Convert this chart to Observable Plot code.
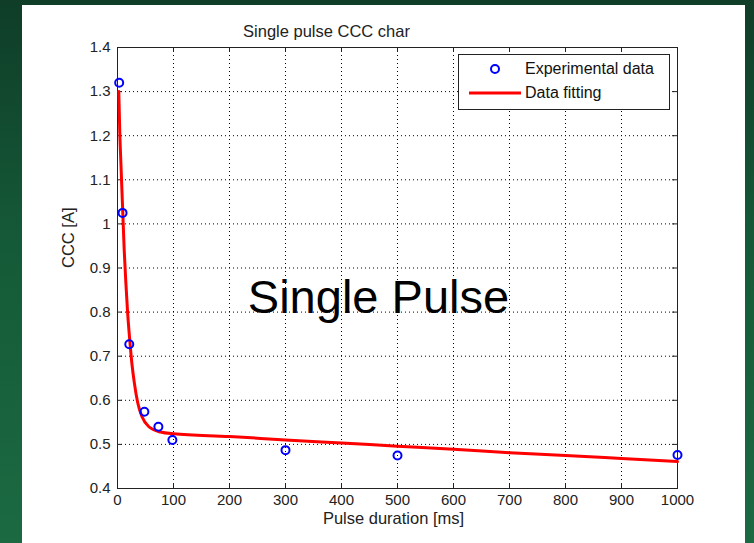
<!DOCTYPE html>
<html><head><meta charset="utf-8">
<script src="https://cdn.jsdelivr.net/npm/d3@7"></script>
<script src="https://cdn.jsdelivr.net/npm/@observablehq/plot@0.6"></script>
<style>
html,body{margin:0;padding:0;}
body{width:754px;height:543px;overflow:hidden;font-family:"Liberation Sans",Arial,sans-serif;}
#stage{position:relative;width:754px;height:543px;overflow:hidden;
 background:linear-gradient(180deg,#0f3d28 0%,#155a38 45%,#1b6a42 100%);}
#panel{position:absolute;left:22px;top:5px;width:723px;height:538px;background:#fff;}
#chart{position:absolute;left:22px;top:5px;}
#legend{position:absolute;left:458px;top:54px;width:210px;height:54px;border:1px solid #222;background:#fff;font-size:16px;color:#111;}
#legend .row{position:absolute;left:0;height:18px;width:210px;}
#legend .lbl{position:absolute;left:66px;top:0;line-height:18px;white-space:nowrap;}
</style></head>
<body>
<div id="stage"><div id="panel"></div><div id="chart"></div>
<div id="legend">
 <div class="row" style="top:5px"><svg width="60" height="18" style="position:absolute;left:0;top:0"><circle cx="36" cy="9" r="4" fill="none" stroke="#0000ff" stroke-width="2"/></svg><span class="lbl">Experimental data</span></div>
 <div class="row" style="top:29px"><svg width="66" height="18" style="position:absolute;left:0;top:0"><line x1="10" x2="62" y1="9" y2="9" stroke="#ff0000" stroke-width="3"/></svg><span class="lbl">Data fitting</span></div>
</div>
</div>
<script>
// Experimental data
const pulseDuration = [3, 9, 21, 48, 73, 98, 300, 500, 1000];
const cccMeasured = [1.32, 1.025, 0.727, 0.574, 0.540, 0.510, 0.487, 0.475, 0.476];
// Fitted curve
const fitDuration = [2.3, 4, 6, 9, 12, 15, 18, 22, 26, 30, 36, 44, 56, 77, 100, 200, 300, 400, 500, 600, 700, 800, 900, 1000];
const fitCCC = [1.30, 1.21, 1.14, 1.04, 0.94, 0.865, 0.80, 0.735, 0.68, 0.64, 0.595, 0.562, 0.540, 0.528, 0.524, 0.518, 0.510, 0.503, 0.496, 0.489, 0.481, 0.475, 0.468, 0.461];
// Ticks
const xTicks = [0, 100, 200, 300, 400, 500, 600, 700, 800, 900, 1000];
const yTicks = [0.4, 0.5, 0.6, 0.7, 0.8, 0.9, 1.0, 1.1, 1.2, 1.3, 1.4];
const titleText = "Single pulse CCC char";
const xLabel = "Pulse duration [ms]";
const yLabel = "CCC [A]";
const annotation = [{label: "Single Pulse", x: 466, y: 0.832}];

const points = pulseDuration.map((d, i) => ({x: d, y: cccMeasured[i]}));
const fit = fitDuration.map((d, i) => ({x: d, y: fitCCC[i]}));
const W = 723, H = 538, ML = 95, MR = 68, MT = 42, MB = 55;
const iw = W - ML - MR, ih = H - MT - MB;
const font = "Liberation Sans, Arial, sans-serif";

const chart = Plot.plot({
  width: W, height: H,
  marginLeft: ML, marginRight: MR, marginTop: MT, marginBottom: MB,
  style: {background: "transparent", fontFamily: font, fontSize: "15px", color: "#222"},
  x: {domain: [0, 1000], ticks: xTicks},
  y: {domain: [0.4, 1.4], ticks: yTicks},
  marks: [
    Plot.gridX(xTicks, {stroke: "#000", strokeOpacity: 1, strokeDasharray: "1,3"}),
    Plot.gridY(yTicks, {stroke: "#000", strokeOpacity: 1, strokeDasharray: "1,3"}),
    Plot.axisX(xTicks, {tickSize: 0, tickPadding: 6, label: null, fontSize: 15, tickFormat: d => String(d)}),
    Plot.axisY(yTicks, {tickSize: 0, tickPadding: 7, label: null, fontSize: 15, tickFormat: d => String(+d.toFixed(1))}),
    Plot.tickX(xTicks, {x: d => d, insetTop: ih - 5, stroke: "#222"}),
    Plot.tickX(xTicks, {x: d => d, insetBottom: ih - 5, stroke: "#222"}),
    Plot.tickY(yTicks, {y: d => d, insetRight: iw - 5, stroke: "#222"}),
    Plot.tickY(yTicks, {y: d => d, insetLeft: iw - 5, stroke: "#222"}),
    Plot.frame({stroke: "#222"}),
    Plot.line(fit, {x: "x", y: "y", stroke: "#ff0000", strokeWidth: 3, curve: "monotone-x"}),
    Plot.dot(points, {x: "x", y: "y", r: 4, stroke: "#0000ff", strokeWidth: 2, fill: "none"}),
    Plot.text(annotation, {x: "x", y: "y", text: "label", fontSize: 47, fill: "#000", fontFamily: font}),
    Plot.text([titleText], {frameAnchor: "top", dy: -22, dx: -71, fontSize: 16.5, fill: "#222"}),
    Plot.text([xLabel], {frameAnchor: "bottom", dy: 35, dx: -4, fontSize: 16.5, fill: "#222"}),
    Plot.text([yLabel], {frameAnchor: "left", dx: -49, rotate: -90, fontSize: 16.5, fill: "#222"})
  ]
});
document.getElementById("chart").appendChild(chart);
</script>
</body></html>
